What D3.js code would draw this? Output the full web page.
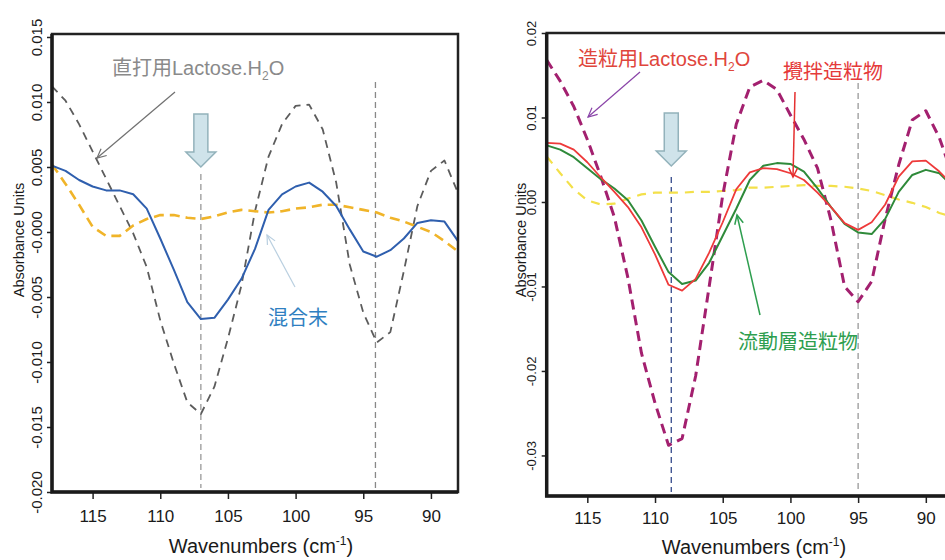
<!DOCTYPE html>
<html>
<head>
<meta charset="utf-8">
<script src="https://cdn.jsdelivr.net/npm/d3@7"></script>
<style>
  body { margin: 0; background: #fff; }
  text { font-family: "Liberation Sans", "Noto Sans CJK JP", sans-serif; }
</style>
</head>
<body>
<svg id="chart" width="945" height="560"></svg>
<script>
// wavenumbers (cm-1), shared by every spectrum
const wavenumbers = [118,117,116,115,114,113,112,111,110,109,108,107,106,105,104,103,102,101,100,99,98,97,96,95,94,93,92,91,90,89,88];

// left panel
const mixPowder = [0.0051,0.0047,0.0040,0.0035,0.0032,0.0032,0.0029,0.0018,-0.0005,-0.0029,-0.0054,-0.0067,-0.0066,-0.0052,-0.0036,-0.0013,0.0017,0.0029,0.0035,0.0038,0.0031,0.0020,0.0002,-0.0015,-0.0019,-0.0014,-0.0005,0.0007,0.0009,0.0008,-0.0007];
const directLactose = [0.0112,0.0101,0.0083,0.0062,0.0041,0.0020,-0.0001,-0.0027,-0.0068,-0.0101,-0.0131,-0.0140,-0.0119,-0.0082,-0.0041,0.0016,0.0058,0.0083,0.0097,0.0098,0.0079,0.0038,-0.0025,-0.0062,-0.0085,-0.0077,-0.0030,0.0020,0.0047,0.0055,0.0030];
const leftReference = [0.0052,0.0037,0.0021,0.0004,-0.0003,-0.0003,0.0005,0.0010,0.0013,0.0013,0.0011,0.0010,0.0012,0.0015,0.0017,0.0016,0.0015,0.0016,0.0018,0.0019,0.0021,0.0021,0.0019,0.0017,0.0015,0.0011,0.0008,0.0004,0.0000,-0.0007,-0.0015];

// right panel
const granLactose = [0.0168,0.0143,0.0113,0.0074,0.0030,-0.0018,-0.0090,-0.0179,-0.0238,-0.0288,-0.0280,-0.0206,-0.0100,0.0008,0.0092,0.0136,0.0144,0.0133,0.0103,0.0074,0.0040,-0.0022,-0.0100,-0.0118,-0.0094,-0.0020,0.0044,0.0097,0.0108,0.0076,0.0030];
const stirGranule = [0.0070,0.0069,0.0062,0.0047,0.0029,0.0012,-0.0006,-0.0030,-0.0062,-0.0098,-0.0105,-0.0091,-0.0060,-0.0024,0.0015,0.0035,0.0040,0.0039,0.0034,0.0026,0.0011,-0.0006,-0.0025,-0.0033,-0.0024,-0.0003,0.0030,0.0048,0.0049,0.0036,0.0020];
const fluidGranule = [0.0067,0.0062,0.0053,0.0040,0.0027,0.0016,0.0002,-0.0022,-0.0053,-0.0083,-0.0097,-0.0093,-0.0072,-0.0040,-0.0008,0.0026,0.0043,0.0046,0.0045,0.0036,0.0016,-0.0006,-0.0026,-0.0036,-0.0038,-0.0020,0.0012,0.0032,0.0038,0.0034,0.0018];
const rightReference = [0.0054,0.0034,0.0015,0.0002,-0.0003,-0.0002,0.0004,0.0009,0.0011,0.0011,0.0011,0.0012,0.0012,0.0013,0.0014,0.0017,0.0017,0.0018,0.0019,0.0020,0.0019,0.0019,0.0018,0.0016,0.0013,0.0008,0.0003,-0.0001,-0.0006,-0.0013,-0.0018];

// ticks
const xTicks = [115,110,105,100,95,90];
const leftYTicks = [0.015,0.010,0.005,0,-0.005,-0.010,-0.015,-0.020];
const leftYLabels = ["0.015","0.010","0.005","-0.000","-0.005","-0.010","-0.015","-0.020"];
const rightYTicks = [0.02,0.01,0,-0.01,-0.02,-0.03];
const rightYLabels = ["0.02","0.01","0.00","-0.01","-0.02","-0.03"];

const svg = d3.select("#chart");

function drawArrow(g, x1, y1, x2, y2, color, w) {
    g.append("line").attr("x1", x1).attr("y1", y1).attr("x2", x2).attr("y2", y2)
        .attr("stroke", color).attr("stroke-width", w);
    const a = Math.atan2(y2 - y1, x2 - x1), L = 10, s = 0.45;
    g.append("path")
        .attr("d", `M${x2 - L*Math.cos(a - s)},${y2 - L*Math.sin(a - s)}L${x2},${y2}L${x2 - L*Math.cos(a + s)},${y2 - L*Math.sin(a + s)}`)
        .attr("fill", "none").attr("stroke", color).attr("stroke-width", w);
}

function blockArrow(g, cx, top) {
    g.append("path")
        .attr("d", `M${cx-7},${top}H${cx+7}V${top+38}H${cx+15}L${cx},${top+53}L${cx-15},${top+38}H${cx-7}Z`)
        .attr("fill", "#cfe3ea").attr("stroke", "#93b2bb").attr("stroke-width", 1.5);
}

function panel(cfg) {
    const x = d3.scaleLinear().domain([118, 88]).range([cfg.left, cfg.right]);
    const y = d3.scaleLinear().domain(cfg.yDomain).range([cfg.bottom, cfg.top]);
    const g = svg.append("g");

    const clipId = "clip" + cfg.id;
    svg.append("clipPath").attr("id", clipId).append("rect")
        .attr("x", cfg.left).attr("y", cfg.top)
        .attr("width", cfg.right - cfg.left).attr("height", cfg.bottom - cfg.top);

    // x axis
    g.append("g")
        .attr("transform", `translate(0,${cfg.bottom})`)
        .call(d3.axisBottom(x).tickValues(xTicks).tickSize(7).tickPadding(cfg.xPad).tickFormat(d3.format("d")))
        .call(a => a.select(".domain").remove())
        .call(a => a.selectAll("line").attr("stroke", "#222").attr("stroke-width", 1.5))
        .call(a => a.selectAll("text").attr("font-size", 17).attr("fill", "#1a1a1a"));

    // y axis with rotated labels
    g.append("g")
        .attr("transform", `translate(${cfg.left},0)`)
        .call(d3.axisLeft(y).tickValues(cfg.yTicks).tickSize(5).tickFormat((d, i) => cfg.yLabels[i]))
        .call(a => a.select(".domain").remove())
        .call(a => a.selectAll("line").attr("stroke", "#222").attr("stroke-width", 1.5))
        .call(a => a.selectAll("text")
            .attr("x", 0).attr("dy", 0)
            .attr("text-anchor", "middle")
            .attr("transform", `translate(${cfg.yLabelX},0) rotate(-90)`)
            .attr("font-size", cfg.yFont).attr("fill", "#1a1a1a"));

    // axis titles
    g.append("text")
        .attr("transform", `translate(${cfg.titleX},240) rotate(-90)`)
        .attr("text-anchor", "middle").attr("font-size", 14.5).attr("fill", "#1a1a1a")
        .text("Absorbance Units");
    const xt = g.append("text")
        .attr("x", cfg.xTitleX).attr("y", cfg.xTitleY)
        .attr("text-anchor", "middle").attr("font-size", 20).attr("fill", "#1a1a1a");
    xt.append("tspan").text("Wavenumbers (cm");
    xt.append("tspan").attr("font-size", 12).attr("dy", -8).text("-1");
    xt.append("tspan").attr("dy", 8).text(")");

    const plot = g.append("g").attr("clip-path", `url(#${clipId})`);
    const line = d3.line().x((d, i) => x(wavenumbers[i])).y(d => y(d));

    // guides at the band positions
    cfg.guides.forEach(gd => {
        plot.append("line")
            .attr("x1", x(gd.w)).attr("x2", x(gd.w))
            .attr("y1", gd.top).attr("y2", cfg.bottom - 4)
            .attr("stroke", gd.color).attr("stroke-width", 1.3).attr("stroke-dasharray", "6,4");
    });

    cfg.series.forEach(s => {
        plot.append("path").datum(s.values)
            .attr("d", line)
            .attr("fill", "none")
            .attr("stroke", s.color)
            .attr("stroke-width", s.width)
            .attr("stroke-dasharray", s.dash || null)
            .attr("stroke-linejoin", "round");
    });

    blockArrow(g, x(cfg.arrowW), cfg.top + 80);

    // frame
    g.append("rect")
        .attr("x", cfg.left).attr("y", cfg.top)
        .attr("width", cfg.right - cfg.left).attr("height", cfg.bottom - cfg.top)
        .attr("fill", "none").attr("stroke", "#222").attr("stroke-width", 2.5);
    g.append("path")
        .attr("d", `M${cfg.left},${cfg.top}V${cfg.bottom}H${cfg.right}`)
        .attr("fill", "none").attr("stroke", "#1a1a1a").attr("stroke-width", 3.5);

    return { g, x, y };
}

// ----- left panel -----
const L = panel({
    id: "L", left: 52, right: 458, top: 34, bottom: 492,
    yDomain: [-0.020, 0.01523],
    yTicks: leftYTicks, yLabels: leftYLabels, yLabelX: -10, yFont: 15,
    xPad: 11, titleX: 24, xTitleX: 261, xTitleY: 553,
    arrowW: 107,
    guides: [{ w: 107, top: 174, color: "#999" }, { w: 94.1, top: 82, color: "#888" }],
    series: [
        { values: directLactose, color: "#5c5c5c", width: 1.8, dash: "8,6" },
        { values: leftReference, color: "#f0b429", width: 2.6, dash: "10,6" },
        { values: mixPowder, color: "#2f5fae", width: 2 }
    ]
});

const lt = L.g.append("text").attr("x", 112).attr("y", 75).attr("font-size", 20).attr("fill", "#8a8a8a");
lt.append("tspan").text("直打用Lactose.H");
lt.append("tspan").attr("font-size", 12).attr("dy", 5).text("2");
lt.append("tspan").attr("dy", -5).text("O");
drawArrow(L.g, 175, 92, 97, 158, "#707070", 1.2);

L.g.append("text").attr("x", 268).attr("y", 325).attr("font-size", 20).attr("fill", "#2f7fc1").text("混合末");
drawArrow(L.g, 295, 287, 267, 235, "#b9cfe0", 1.2);

// ----- right panel -----
const R = panel({
    id: "R", left: 546.7, right: 952.9, top: 33, bottom: 496,
    yDomain: [-0.0348, 0.02],
    yTicks: rightYTicks, yLabels: rightYLabels, yLabelX: -11, yFont: 13,
    xPad: 9, titleX: 526, xTitleX: 754, xTitleY: 554,
    arrowW: 108.8,
    guides: [{ w: 108.8, top: 177, color: "#33488a" }, { w: 95, top: 83, color: "#999" }],
    series: [
        { values: rightReference, color: "#f3e04a", width: 2.2, dash: "9,7" },
        { values: granLactose, color: "#a3206f", width: 3, dash: "10,6" },
        { values: fluidGranule, color: "#2f8a3a", width: 2 },
        { values: stirGranule, color: "#ee3a3a", width: 1.8 }
    ]
});

const rt = R.g.append("text").attr("x", 578).attr("y", 66).attr("font-size", 20).attr("fill", "#e0463c");
rt.append("tspan").text("造粒用Lactose.H");
rt.append("tspan").attr("font-size", 12).attr("dy", 5).text("2");
rt.append("tspan").attr("dy", -5).text("O");
drawArrow(R.g, 640, 72, 588, 117, "#8a44a8", 1.2);

R.g.append("text").attr("x", 783).attr("y", 79).attr("font-size", 20).attr("fill", "#e53a3a").text("攪拌造粒物");
drawArrow(R.g, 795, 92, 793, 177, "#e53030", 1.5);

R.g.append("text").attr("x", 738).attr("y", 349).attr("font-size", 20).attr("fill", "#2e9e4f").text("流動層造粒物");
drawArrow(R.g, 760, 315, 737, 215, "#2e9e4f", 1.5);
</script>
</body>
</html>
